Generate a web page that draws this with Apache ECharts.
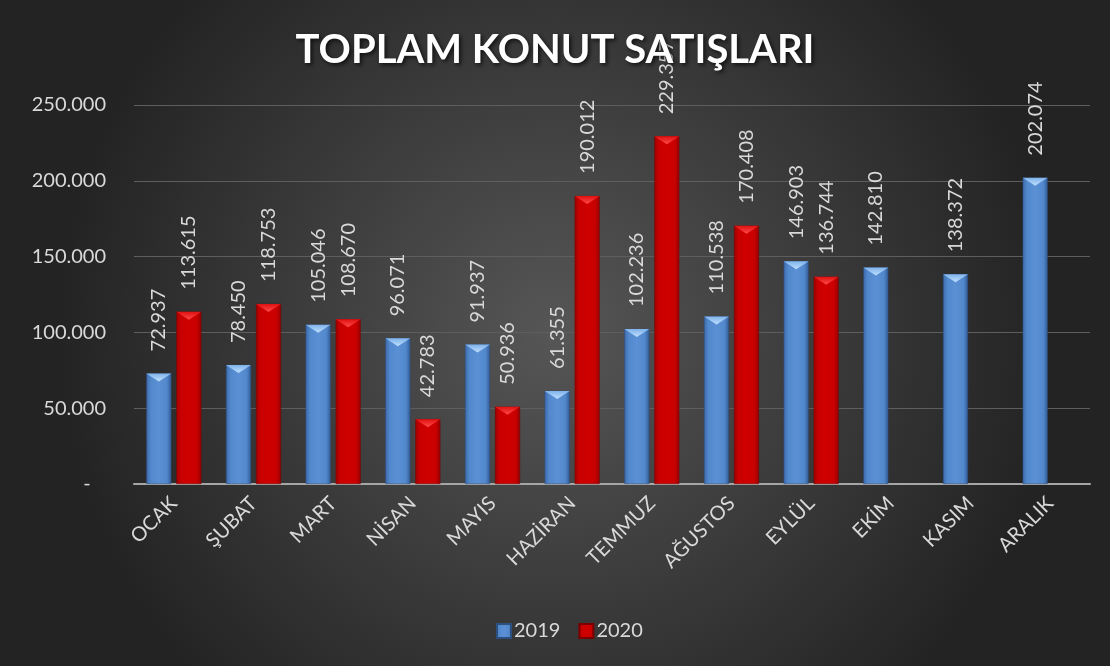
<!DOCTYPE html>
<html><head><meta charset="utf-8">
<script src="https://cdn.jsdelivr.net/npm/echarts@6/dist/echarts.min.js"></script>
<style>html,body{margin:0;padding:0;background:#333}#c{width:1110px;height:666px}</style>
</head><body><div id="c"></div>
<script>
var categories = ['OCAK','ŞUBAT','MART','NİSAN','MAYIS','HAZİRAN','TEMMUZ','AĞUSTOS','EYLÜL','EKİM','KASIM','ARALIK'];
var sales2019 = [72937, 78450, 105046, 96071, 91937, 61355, 102236, 110538, 146903, 142810, 138372, 202074];
var sales2020 = [113615, 118753, 108670, 42783, 50936, 190012, 229357, 170408, 136744, null, null, null];
var yTicks = [0, 50000, 100000, 150000, 200000, 250000];

function fmt(v){ if (v === 0) return '-   '; return String(v).replace(/\B(?=(\d{3})+(?!\d))/g, '.'); }

var chart = echarts.init(document.getElementById('c'));
var FONT = 'Lato';
var blueGrad = new echarts.graphic.LinearGradient(0,0,1,0,[
  {offset:0,color:'#3c6aab'},{offset:0.18,color:'#5288cc'},{offset:0.5,color:'#5b90d4'},{offset:0.82,color:'#5288cc'},{offset:1,color:'#325c98'}]);
var redGrad = new echarts.graphic.LinearGradient(0,0,1,0,[
  {offset:0,color:'#9e0000'},{offset:0.18,color:'#c80000'},{offset:0.5,color:'#d00000'},{offset:0.82,color:'#c80000'},{offset:1,color:'#960000'}]);
var blueTri = new echarts.graphic.LinearGradient(0,0,0,1,[{offset:0,color:'#bfe0ff'},{offset:1,color:'#7fb2ea'}]);
var redTri = new echarts.graphic.LinearGradient(0,0,0,1,[{offset:0,color:'#ff4a4a'},{offset:1,color:'#e01010'}]);

var labelCfg = {
  show:true, position:'top', rotate:90, align:'left', verticalAlign:'middle', distance:22,
  color:'#d9d9d9', fontFamily:FONT, fontSize:20,
  formatter:function(p){ return fmt(p.value); }
};

chart.setOption({
  backgroundColor: new echarts.graphic.RadialGradient(0.5,0.5,0.75,[
    {offset:0,color:'#565656'},{offset:1,color:'#232323'}]),
  title:{
    text:'TOPLAM KONUT SATIŞLARI', left:'center', top:25,
    textStyle:{color:'#ffffff', fontFamily:FONT, fontWeight:'bold', fontSize:40,
      textShadowColor:'rgba(0,0,0,0.7)', textShadowBlur:4, textShadowOffsetX:2, textShadowOffsetY:2}
  },
  legend:{
    data:['2019','2020'], left:491, top:616, itemWidth:14, itemHeight:14, itemGap:18,
    icon:'rect',
    textStyle:{color:'#d9d9d9', fontFamily:FONT, fontSize:20, padding:[0,0,0,-2]}
  },
  grid:{left:134, right:20, top:105, bottom:182},
  xAxis:{
    type:'category', data:categories,
    axisLine:{lineStyle:{color:'#a6a6a6', width:2}},
    axisTick:{show:false},
    axisLabel:{rotate:45, color:'#d9d9d9', fontFamily:FONT, fontSize:20, margin:16, interval:0}
  },
  yAxis:{
    type:'value', min:0, max:250000, interval:50000,
    axisLine:{show:false}, axisTick:{show:false},
    splitLine:{lineStyle:{color:'#5e5e5e', width:1}},
    axisLabel:{color:'#d9d9d9', fontFamily:FONT, fontSize:20, margin:28,
      formatter:function(v){ return fmt(v); }}
  },
  series:[
    {name:'2019', type:'bar', data:sales2019, barWidth:25, barGap:'20%',
     itemStyle:{color:blueGrad, borderColor:'#2c4f80', borderWidth:0.5}, label:labelCfg},
    {name:'2020', type:'bar', data:sales2020, barWidth:25, barGap:'20%',
     itemStyle:{color:redGrad, borderColor:'#7a0000', borderWidth:0.5}, label:labelCfg},
    {name:'b2019', type:'pictorialBar', data:sales2019, barWidth:25, barGap:'20%',
     symbol:'triangle', symbolRotate:180, symbolSize:[25,8], symbolPosition:'end',
     itemStyle:{color:blueTri}, z:3, silent:true},
    {name:'b2020', type:'pictorialBar', data:sales2020, barWidth:25, barGap:'20%',
     symbol:'triangle', symbolRotate:180, symbolSize:[25,8], symbolPosition:'end',
     itemStyle:{color:redTri}, z:3, silent:true}
  ]
});
</script></body></html>
